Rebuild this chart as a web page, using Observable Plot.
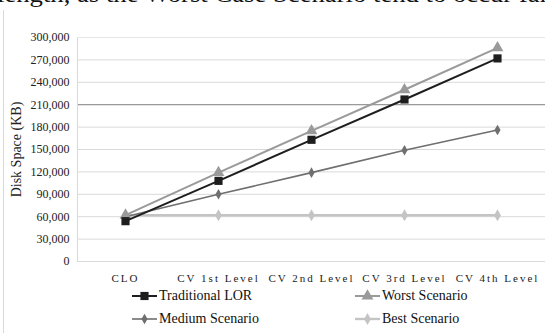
<!DOCTYPE html>
<html>
<head>
<meta charset="utf-8">
<script src="https://cdn.jsdelivr.net/npm/d3@7"></script>
<script src="https://cdn.jsdelivr.net/npm/@observablehq/plot@0.6"></script>
<style>
  html, body { margin: 0; padding: 0; background: #fff; }
  body { width: 545px; height: 333px; position: relative; overflow: hidden; font-family: "Liberation Serif", "Times New Roman", serif; }
  #bodytext { position: absolute; left: -3px; top: -17px; font-size: 23px; line-height: 23px; white-space: nowrap; color: #111; transform: scaleX(1.16); transform-origin: 0 0; }
  #frame { position: absolute; left: 3px; top: 10px; width: 1px; height: 330px; background: #d9d9d9; }
  #chart { position: absolute; left: 0; top: 8px; }
  #chart svg, #chart svg text { font-family: "Liberation Serif", "Times New Roman", serif !important; }
  #chart svg [aria-label="x-axis tick label"] text { letter-spacing: 2px; }
  #legend { position: absolute; left: 0; top: 286px; width: 545px; font-size: 14px; color: #111; font-family: "Liberation Serif", serif; }
  .item { position: absolute; display: flex; align-items: center; white-space: nowrap; }
  .item svg { display: block; margin-right: 1px; }
</style>
</head>
<body>
<div id="bodytext">length, as the Worst Case Scenario tend to occur far</div>
<div id="frame"></div>
<div id="chart"></div>
<div id="legend"></div>
<script>
const categories = ["CLO", "CV 1st Level", "CV 2nd Level", "CV 3rd Level", "CV 4th Level"];
const traditionalLOR = [54000, 108000, 163000, 217000, 272000];
const worstScenario = [62000, 119000, 175000, 230000, 286000];
const mediumScenario = [60000, 90000, 119000, 149000, 176000];
const bestScenario = [62000, 62000, 62000, 62000, 62000];
const yTicks = [0, 30000, 60000, 90000, 120000, 150000, 180000, 210000, 240000, 270000, 300000];

const series = [
  {name: "Best Scenario", values: bestScenario, color: "#c4c4c4", symbol: "diamond", r: 3.6, sw: 2.4},
  {name: "Medium Scenario", values: mediumScenario, color: "#6f6f6f", symbol: "diamond", r: 3.2, sw: 1.6},
  {name: "Worst Scenario", values: worstScenario, color: "#9a9a9a", symbol: "triangle", r: 4.4, sw: 2},
  {name: "Traditional LOR", values: traditionalLOR, color: "#1e1e1e", symbol: "square", r: 4.6, sw: 2}
];

const rows = series.flatMap(s => s.values.map((v, i) => ({series: s.name, category: categories[i], value: v})));

const marks = [
  Plot.gridY(yTicks, {stroke: "#d9d9d9", strokeOpacity: 1, strokeWidth: 1}),
  Plot.ruleY([210000], {stroke: "#8a8a8a", strokeWidth: 1}),
  Plot.ruleY([0], {stroke: "#d9d9d9"}),
  Plot.frame({anchor: "left", stroke: "#d9d9d9"}),
  Plot.frame({anchor: "top", stroke: "#e6e6e6"})
];
for (const s of series) {
  const d = rows.filter(r => r.series === s.name);
  marks.push(Plot.line(d, {x: "category", y: "value", stroke: s.color, strokeWidth: s.sw}));
  marks.push(Plot.dot(d, {x: "category", y: "value", symbol: () => s.symbol, fill: s.color, stroke: "none", r: s.r}));
}

const chart = Plot.plot({
  width: 545,
  height: 280,
  marginLeft: 77,
  marginRight: 0,
  marginTop: 29,
  marginBottom: 27,
  style: {fontFamily: "'Liberation Serif', 'Times New Roman', serif", fontSize: "12px", color: "#222", background: "transparent"},
  x: {type: "point", domain: categories, padding: 0.5, label: null},
  y: {domain: [0, 300000], label: null},
  symbol: {type: "identity"},
  marks: [
    ...marks,
    Plot.axisX({tickSize: 0, tickPadding: 13, fontSize: 11, label: null}),
    Plot.axisY(yTicks, {tickSize: 0, tickPadding: 8, tickFormat: d3.format(","), fontSize: 12, label: null}),
    Plot.text(["Disk Space (KB)"], {frameAnchor: "left", textAnchor: "middle", dx: -61, rotate: -90, fontSize: 14, fill: "#222"})
  ]
});
document.getElementById("chart").appendChild(chart);

// legend
const legendOrder = [
  {name: "Traditional LOR", left: 131, top: 0},
  {name: "Worst Scenario", left: 354, top: 0},
  {name: "Medium Scenario", left: 131, top: 23},
  {name: "Best Scenario", left: 354, top: 23}
];
const symMap = {square: d3.symbolSquare, triangle: d3.symbolTriangle, diamond: d3.symbolDiamond};
const legend = document.getElementById("legend");
for (const l of legendOrder) {
  const s = series.find(q => q.name === l.name);
  const item = document.createElement("div");
  item.className = "item";
  item.style.left = l.left + "px";
  item.style.top = l.top + "px";
  const area = Math.PI * s.r * s.r;
  const path = d3.symbol(symMap[s.symbol], area)();
  item.innerHTML = `<svg width="27" height="20"><line x1="1" x2="26" y1="10" y2="10" stroke="${s.color}" stroke-width="${s.sw}"/><path transform="translate(13.5,10)" d="${path}" fill="${s.color}"/></svg><span>${s.name}</span>`;
  legend.appendChild(item);
}
</script>
</body>
</html>
